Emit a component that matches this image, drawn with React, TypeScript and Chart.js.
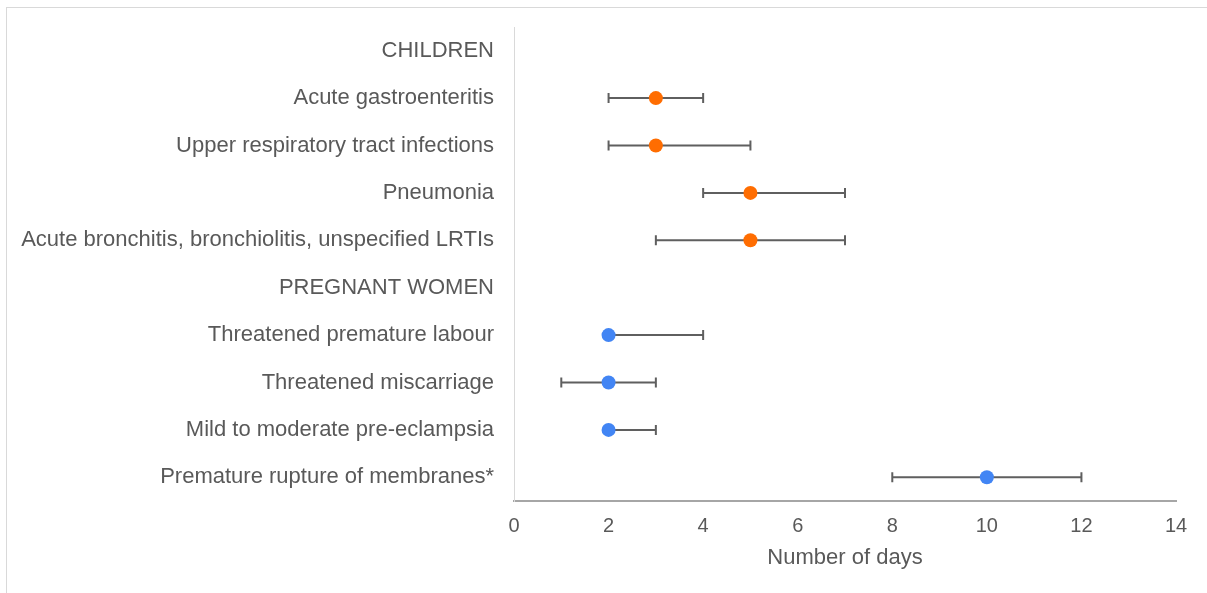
import React, { useEffect, useRef } from 'react';
import { Chart, registerables } from 'chart.js';

Chart.register(...registerables);

const categories = [
  'CHILDREN',
  'Acute gastroenteritis',
  'Upper respiratory tract infections',
  'Pneumonia',
  'Acute bronchitis, bronchiolitis, unspecified LRTIs',
  'PREGNANT WOMEN',
  'Threatened premature labour',
  'Threatened miscarriage',
  'Mild to moderate pre-eclampsia',
  'Premature rupture of membranes*',
];

const childLabels = [
  'Acute gastroenteritis',
  'Upper respiratory tract infections',
  'Pneumonia',
  'Acute bronchitis, bronchiolitis, unspecified LRTIs',
];
const childMedian = [3, 3, 5, 5];
const childLow = [2, 2, 4, 3];
const childHigh = [4, 5, 7, 7];

const pregLabels = [
  'Threatened premature labour',
  'Threatened miscarriage',
  'Mild to moderate pre-eclampsia',
  'Premature rupture of membranes*',
];
const pregMedian = [2, 2, 2, 10];
const pregLow = [2, 1, 2, 8];
const pregHigh = [4, 3, 3, 12];

const xMin = 0;
const xMax = 14;
const xStep = 2;
const xTitle = 'Number of days';

const TEXT = '#595959';
const FONT = "'Liberation Sans', Arial, sans-serif";

const errorBarPlugin = {
  id: 'errorBars',
  beforeDatasetsDraw(chart: any) {
    const ctx = chart.ctx;
    const xs = chart.scales.x;
    chart.data.datasets.forEach((ds: any, di: number) => {
      const meta = chart.getDatasetMeta(di);
      if (!ds.errLow) return;
      meta.data.forEach((pt: any, i: number) => {
        const y = pt.y;
        const xl = xs.getPixelForValue(ds.errLow[i]);
        const xh = xs.getPixelForValue(ds.errHigh[i]);
        ctx.save();
        ctx.strokeStyle = '#5f5f5f';
        ctx.lineWidth = 2;
        ctx.beginPath();
        ctx.moveTo(xl, y);
        ctx.lineTo(xh, y);
        ctx.moveTo(xl, y - 5);
        ctx.lineTo(xl, y + 5);
        ctx.moveTo(xh, y - 5);
        ctx.lineTo(xh, y + 5);
        ctx.stroke();
        ctx.restore();
      });
    });
  },
};

export default function App() {
  const ref = useRef<HTMLCanvasElement | null>(null);

  useEffect(() => {
    if (!ref.current) return;
    const chart = new Chart(ref.current, {
      type: 'scatter',
      data: {
        datasets: [
          {
            label: 'Children',
            data: childLabels.map((c, i) => ({ x: childMedian[i], y: c })),
            errLow: childLow,
            errHigh: childHigh,
            backgroundColor: '#ff6d01',
            borderColor: '#ff6d01',
            pointRadius: 7,
            pointHoverRadius: 7,
            borderWidth: 0,
          } as any,
          {
            label: 'Pregnant women',
            data: pregLabels.map((c, i) => ({ x: pregMedian[i], y: c })),
            errLow: pregLow,
            errHigh: pregHigh,
            backgroundColor: '#4285f4',
            borderColor: '#4285f4',
            pointRadius: 7,
            pointHoverRadius: 7,
            borderWidth: 0,
          } as any,
        ],
      },
      options: {
        animation: false,
        responsive: false,
        devicePixelRatio: 1,
        layout: { padding: { top: 19, right: 31, left: 0, bottom: 0 } },
        plugins: {
          legend: { display: false },
          tooltip: { enabled: false },
          title: { display: false },
        },
        scales: {
          x: {
            type: 'linear',
            min: xMin,
            max: xMax,
            ticks: {
              stepSize: xStep,
              color: TEXT,
              font: { family: FONT, size: 20 },
              padding: 13,
            },
            grid: { display: false, drawTicks: false },
            border: { display: true, color: '#a6a6a6', width: 2 },
            title: {
              display: true,
              text: xTitle,
              color: TEXT,
              font: { family: FONT, size: 22 },
              padding: { top: 0, bottom: 22 },
            },
            afterFit: (s: any) => {
              s.height = 92;
            },
          },
          y: {
            type: 'category',
            labels: categories,
            offset: true,
            reverse: false,
            ticks: {
              color: TEXT,
              font: { family: FONT, size: 22 },
              padding: 20,
              autoSkip: false,
            },
            grid: { display: false, drawTicks: false },
            border: { display: true, color: '#d9d9d9', width: 1 },
            afterFit: (s: any) => {
              s.width = 507;
              s.paddingTop = 0;
              s.paddingBottom = 0;
            },
          },
        },
      } as any,
      plugins: [errorBarPlugin],
    });
    return () => chart.destroy();
  }, []);

  return (
    <div
      style={{
        position: 'fixed',
        left: 6,
        top: 7,
        width: 1220,
        height: 600,
        border: '1px solid #d9d9d9',
        boxSizing: 'border-box',
        background: '#fff',
      }}
    >
      <canvas
        ref={ref}
        width={1200}
        height={585}
        style={{ position: 'absolute', left: 0, top: 0, width: 1200, height: 585 }}
      />
    </div>
  );
}
